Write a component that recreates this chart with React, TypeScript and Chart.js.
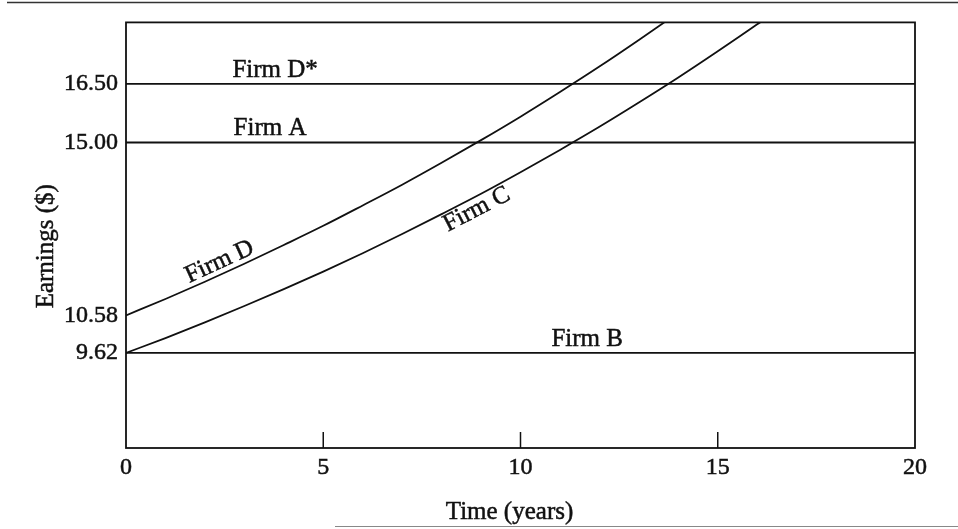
import React, { useEffect, useRef } from "react";
import { Chart, registerables } from "chart.js";

Chart.register(...registerables);

// ---- data ----
const years = [0, 1, 2, 3, 4, 5, 6, 7, 8, 9, 10, 11, 12, 13, 14, 15, 16, 17];
const firmD = [10.58, 11.0, 11.44, 11.9, 12.38, 12.87, 13.39, 13.92, 14.48, 15.06, 15.66, 16.29, 16.94, 17.62, 18.32];
const firmC = [9.62, 10.0, 10.4, 10.82, 11.25, 11.7, 12.17, 12.66, 13.17, 13.69, 14.24, 14.81, 15.4, 16.02, 16.66, 17.33, 18.02, 18.74];
const lineEnds = [0, 20];
const firmDStar = [16.5, 16.5];
const firmA = [15.0, 15.0];
const firmB = [9.62, 9.62];
const xTicks = [0, 5, 10, 15, 20];
const yTicks = [9.62, 10.58, 15.0, 16.5];
const yMin = 7.19;
const yMax = 18.07;
const xTitle = "Time (years)";
const yTitle = "Earnings ($)";

const SERIF = "'Liberation Serif', 'DejaVu Serif', serif";
const INK = "#111";

const toPts = (xs: number[], ys: number[]) => ys.map((y, i) => ({ x: xs[i], y }));

const flatLabels = [
  { text: "Firm D*", ds: 0, at: 3.78 },
  { text: "Firm A", ds: 1, at: 3.65 },
  { text: "Firm B", ds: 2, at: 11.69 },
];
const curveLabels = [
  { text: "Firm D", ds: 3, at: 2.5, off: -12 },
  { text: "Firm C", ds: 4, at: 8.75, off: 12 },
];

const fillStroke = (ctx: any, text: string, x: number, y: number) => {
  ctx.fillText(text, x, y);
  ctx.strokeText(text, x, y);
};

const decorPlugin = {
  id: "decor",
  afterDatasetsDraw(chart: any) {
    const { ctx, chartArea, scales } = chart;
    const { left, right, top, bottom } = chartArea;
    ctx.save();
    // page rules
    ctx.strokeStyle = "#333";
    ctx.lineWidth = 1.5;
    ctx.beginPath();
    ctx.moveTo(7, 2.5);
    ctx.lineTo(958, 2.5);
    ctx.stroke();
    ctx.strokeStyle = "#888";
    ctx.lineWidth = 1.2;
    ctx.beginPath();
    ctx.moveTo(335, 526.5);
    ctx.lineTo(958, 526.5);
    ctx.stroke();
    // frame
    ctx.strokeStyle = INK;
    ctx.lineWidth = 1.8;
    ctx.strokeRect(left, top, right - left, bottom - top);
    // inner x ticks
    ctx.lineWidth = 1.5;
    xTicks.slice(1, -1).forEach((v) => {
      const px = scales.x.getPixelForValue(v);
      ctx.beginPath();
      ctx.moveTo(px, bottom);
      ctx.lineTo(px, bottom - 16);
      ctx.stroke();
    });
    ctx.fillStyle = INK;
    ctx.strokeStyle = INK;
    ctx.lineWidth = 0.5;
    ctx.font = `25px ${SERIF}`;
    ctx.textAlign = "center";
    // axis titles
    ctx.textBaseline = "middle";
    fillStroke(ctx, xTitle, (left + right) / 2 - 11, 512);
    ctx.save();
    ctx.translate(46, (top + bottom) / 2 + 11);
    ctx.rotate(-Math.PI / 2);
    fillStroke(ctx, yTitle, 0, 0);
    ctx.restore();
    // flat line labels
    ctx.textBaseline = "alphabetic";
    flatLabels.forEach((l) => {
      const ds = chart.data.datasets[l.ds];
      const px = scales.x.getPixelForValue(l.at);
      const py = scales.y.getPixelForValue(ds.data[0].y);
      fillStroke(ctx, l.text, px, py - 7);
    });
    // curve labels
    ctx.textBaseline = "middle";
    curveLabels.forEach((l) => {
      const pts = chart.getDatasetMeta(l.ds).data;
      const i = Math.floor(l.at);
      const f = l.at - i;
      const a = pts[i];
      const b = pts[i + 1];
      const px = a.x + (b.x - a.x) * f;
      const py = a.y + (b.y - a.y) * f;
      const ang = Math.atan2(b.y - a.y, b.x - a.x);
      ctx.save();
      ctx.translate(px, py);
      ctx.rotate(ang);
      fillStroke(ctx, l.text, 0, l.off);
      ctx.restore();
    });
    ctx.restore();
  },
};

export default function App() {
  const ref = useRef<HTMLCanvasElement>(null);
  useEffect(() => {
    if (!ref.current) return;
    const lineStyle = {
      borderColor: INK,
      borderWidth: 1.8,
      pointRadius: 0,
      fill: false,
    };
    const tickFont = { family: SERIF, size: 24 };
    const chart = new Chart(ref.current, {
      type: "line",
      data: {
        datasets: [
          { label: "Firm D*", data: toPts(lineEnds, firmDStar), ...lineStyle },
          { label: "Firm A", data: toPts(lineEnds, firmA), ...lineStyle },
          { label: "Firm B", data: toPts(lineEnds, firmB), ...lineStyle },
          { label: "Firm D", data: toPts(years, firmD), cubicInterpolationMode: "monotone", ...lineStyle },
          { label: "Firm C", data: toPts(years, firmC), cubicInterpolationMode: "monotone", ...lineStyle },
        ],
      },
      options: {
        animation: false,
        responsive: false,
        devicePixelRatio: 1,
        layout: { padding: { top: 18, right: 43, left: 0, bottom: 0 } },
        plugins: { legend: { display: false }, tooltip: { enabled: false } },
        scales: {
          x: {
            type: "linear",
            min: 0,
            max: 20,
            afterBuildTicks: (s: any) => {
              s.ticks = xTicks.map((v) => ({ value: v }));
            },
            afterFit: (s: any) => {
              s.height = 81;
            },
            grid: { display: false, drawTicks: false },
            border: { display: false },
            ticks: {
              color: INK,
              padding: 5,
              font: tickFont,
              maxRotation: 0,
              textStrokeColor: INK,
              textStrokeWidth: 0.5,
              callback: (v: any) => String(v),
            },
          },
          y: {
            type: "linear",
            min: yMin,
            max: yMax,
            afterBuildTicks: (s: any) => {
              s.ticks = yTicks.map((v) => ({ value: v }));
            },
            afterFit: (s: any) => {
              s.width = 126;
            },
            grid: { display: false, drawTicks: false },
            border: { display: false },
            ticks: {
              color: INK,
              padding: 8,
              font: tickFont,
              textStrokeColor: INK,
              textStrokeWidth: 0.5,
              callback: (v: any) => Number(v).toFixed(2),
            },
          },
        },
      },
      plugins: [decorPlugin],
    } as any);
    return () => chart.destroy();
  }, []);
  return (
    <div style={{ position: "fixed", left: 0, top: 0, width: 958, height: 529, background: "#fff" }}>
      <canvas ref={ref} width={958} height={529} style={{ display: "block", width: 958, height: 529 }} />
    </div>
  );
}
